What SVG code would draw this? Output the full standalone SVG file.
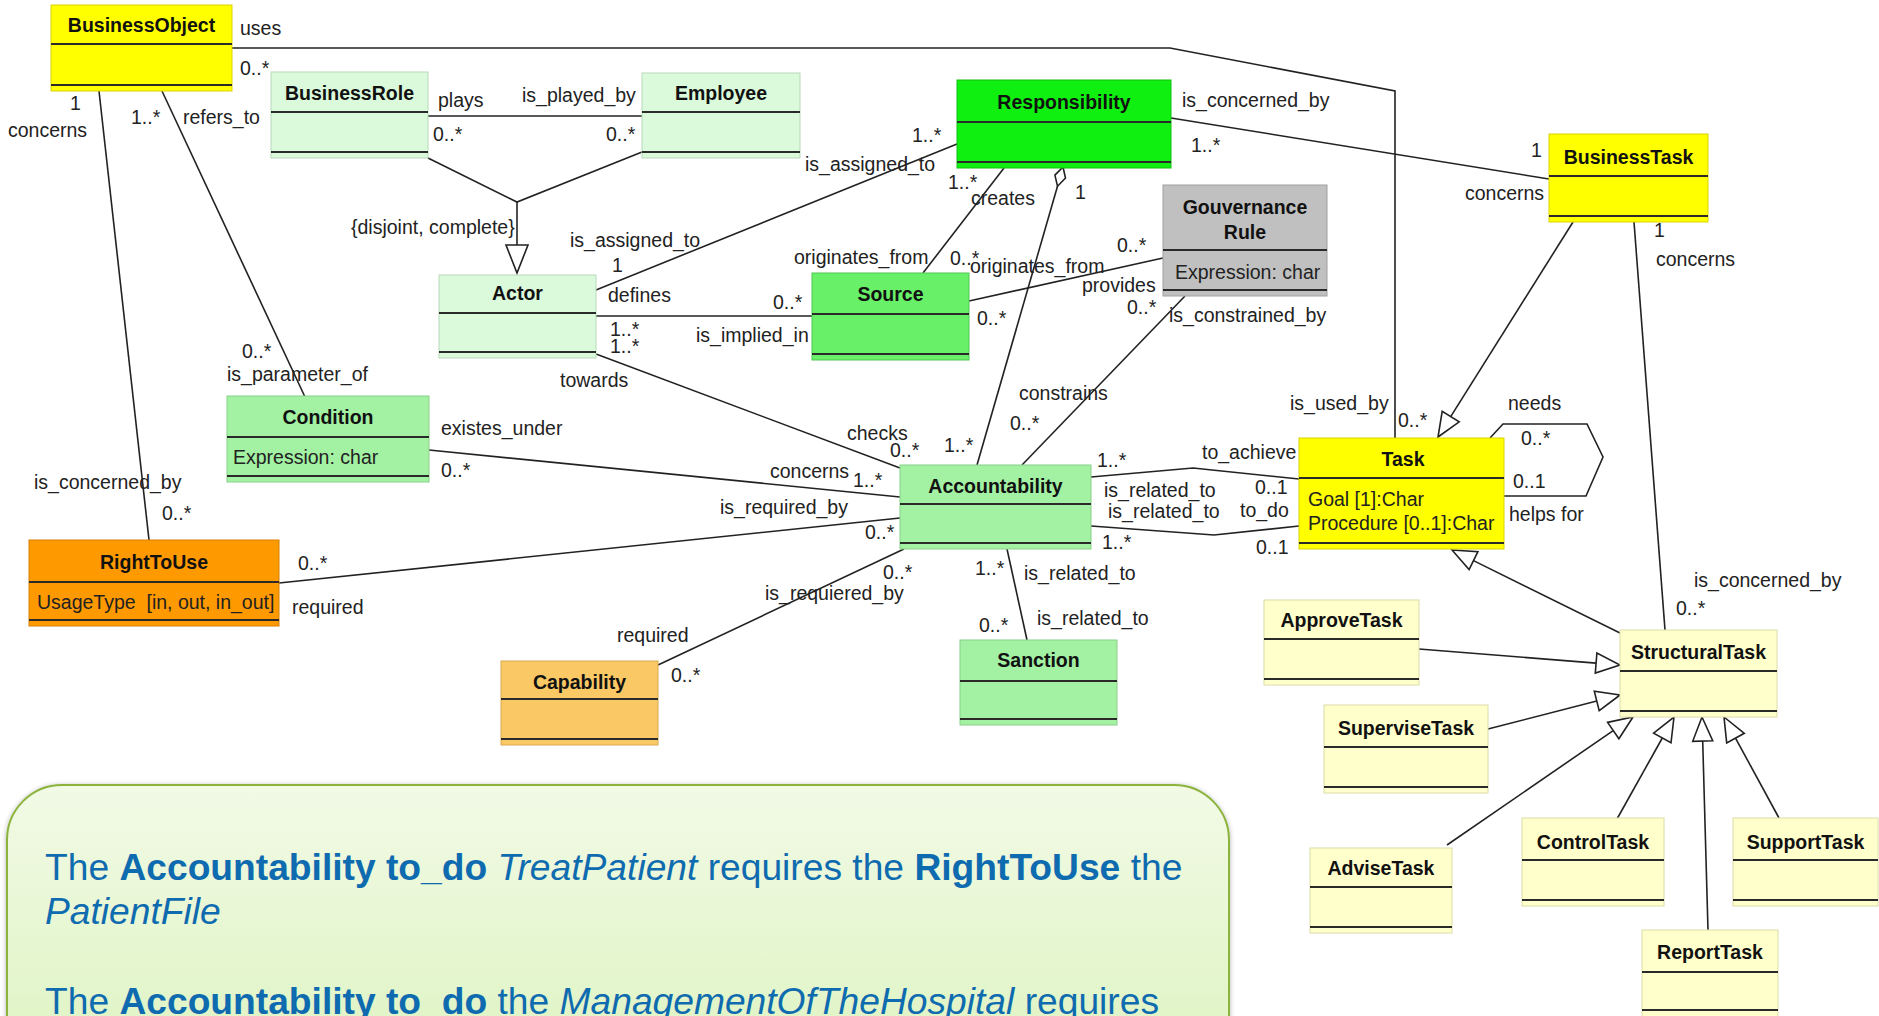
<svg xmlns="http://www.w3.org/2000/svg" width="1879" height="1016" viewBox="0 0 1879 1016">
  <defs>
    <style>
      text { font-family: "Liberation Sans", Arial, sans-serif; }
      .lbl { font-size: 19.5px; fill: #222; }
      .ttl { font-size: 19.5px; font-weight: bold; fill: #111; text-anchor: middle; }
      .attr { font-size: 19.5px; fill: #222; }
      .sep { stroke: #2a2a2a; stroke-width: 2.2; }
      .edge { stroke-width: 1; }
      .c { fill: none; stroke: #222; stroke-width: 1.6; }
      .tri { fill: #fff; stroke: #222; stroke-width: 1.6; }
      .note { font-size: 37.2px; fill: #0F6BAF; }
      .b { font-weight: bold; }
      .i { font-style: italic; }
    </style>
    <linearGradient id="noteFill" x1="0" y1="0" x2="0" y2="1">
      <stop offset="0" stop-color="#F2FAE6"/>
      <stop offset="1" stop-color="#DBF3BD"/>
    </linearGradient>
    <filter id="noteShadow" x="-5%" y="-10%" width="110%" height="120%">
      <feDropShadow dx="0" dy="1" stdDeviation="2.5" flood-color="#000" flood-opacity="0.3"/>
    </filter>
  </defs>

  <rect width="1879" height="1016" fill="#fff"/>

  <!-- connectors -->
  <g id="connectors">
    <!-- BusinessObject uses / Task is_used_by -->
    <polyline class="c" points="232,48 1170,48 1395,91 1395,438"/>
    <!-- plays / is_played_by -->
    <line class="c" x1="428" y1="116" x2="642" y2="116"/>
    <!-- {disjoint, complete} generalization to Actor -->
    <polyline class="c" points="428,158 517,202 642,152"/>
    <line class="c" x1="517" y1="202" x2="517" y2="245"/>
    <polygon class="tri" points="506,245 528,245 517,273"/>
    <!-- refers_to / is_parameter_of -->
    <line class="c" x1="162" y1="91" x2="305" y2="397"/>
    <!-- concerns / is_concerned_by -->
    <line class="c" x1="99" y1="91" x2="149" y2="540"/>
    <!-- Actor is_assigned_to Responsibility -->
    <line class="c" x1="596" y1="290" x2="957" y2="144"/>
    <!-- defines / is_implied_in -->
    <line class="c" x1="596" y1="316" x2="812" y2="316"/>
    <!-- towards / checks -->
    <line class="c" x1="596" y1="354" x2="900" y2="468"/>
    <!-- creates / originates_from -->
    <line class="c" x1="1004" y1="168" x2="923" y2="273"/>
    <!-- aggregation Responsibility - Accountability -->
    <line class="c" x1="1057.5" y1="186.2" x2="977" y2="465"/>
    <polygon class="tri" points="1063,167 1065.5,178.1 1057.5,186.2 1054.9,175.1"/>
    <!-- Source provides Gouvernance Rule -->
    <line class="c" x1="969" y1="301" x2="1163" y2="258"/>
    <!-- constrains / is_constrained_by -->
    <line class="c" x1="1185" y1="296" x2="1022" y2="465"/>
    <!-- Responsibility is_concerned_by BusinessTask -->
    <line class="c" x1="1171" y1="118" x2="1549" y2="179"/>
    <!-- existes_under / concerns -->
    <line class="c" x1="429" y1="450" x2="900" y2="497"/>
    <!-- RightToUse required / is_required_by -->
    <line class="c" x1="279" y1="583" x2="900" y2="518"/>
    <!-- Capability required / is_requiered_by -->
    <line class="c" x1="658" y1="665" x2="904" y2="549"/>
    <!-- Accountability - Sanction -->
    <line class="c" x1="1007" y1="549" x2="1027" y2="640"/>
    <!-- to_achieve -->
    <polyline class="c" points="1091,477 1193,468 1299,479"/>
    <!-- to_do -->
    <polyline class="c" points="1091,526 1214,535 1299,526"/>
    <!-- BusinessTask generalization to Task -->
    <line class="c" x1="1573" y1="222" x2="1450.7" y2="416.6"/>
    <polygon class="tri" points="1438,437 1459.2,421.9 1442.2,411.3"/>
    <!-- BusinessTask concerns StructuralTask -->
    <line class="c" x1="1634" y1="222" x2="1665" y2="630"/>
    <!-- Task needs / helps for (self association) -->
    <polyline class="c" points="1490,438 1503,424 1587,424 1603,457 1586,496 1504,496"/>
    <!-- StructuralTask generalization to Task -->
    <line class="c" x1="1620" y1="633" x2="1473.5" y2="560.6"/>
    <polygon class="tri" points="1452,550 1477.9,551.6 1469.1,569.6"/>
    <!-- subtasks generalization to StructuralTask -->
    <line class="c" x1="1419" y1="649" x2="1596.1" y2="663.1"/>
    <polygon class="tri" points="1620,665 1595.3,673 1596.9,653.1"/>
    <line class="c" x1="1488" y1="729" x2="1596.8" y2="701"/>
    <polygon class="tri" points="1620,695 1599.2,710.6 1594.3,691.3"/>
    <line class="c" x1="1447" y1="845" x2="1613.2" y2="730.6"/>
    <polygon class="tri" points="1633,717 1618.9,738.8 1607.6,722.4"/>
    <line class="c" x1="1617" y1="819" x2="1662.3" y2="738"/>
    <polygon class="tri" points="1674,717 1671,742.8 1653.6,733.1"/>
    <line class="c" x1="1708" y1="930" x2="1702.7" y2="741"/>
    <polygon class="tri" points="1702,717 1712.7,740.7 1692.7,741.3"/>
    <line class="c" x1="1779" y1="818" x2="1735.5" y2="738.1"/>
    <polygon class="tri" points="1724,717 1744.3,733.3 1726.7,742.9"/>
  </g>

  <!-- association labels and multiplicities -->
  <g id="labels" class="lbl">
    <text x="240" y="35">uses</text>
    <text x="240" y="75">0..*</text>
    <text x="438" y="107">plays</text>
    <text x="522" y="102">is_played_by</text>
    <text x="433" y="141">0..*</text>
    <text x="606" y="141">0..*</text>
    <text x="70" y="110">1</text>
    <text x="8" y="137">concerns</text>
    <text x="131" y="124">1..*</text>
    <text x="183" y="124">refers_to</text>
    <text x="351" y="234">{disjoint, complete}</text>
    <text x="570" y="247">is_assigned_to</text>
    <text x="612" y="272">1</text>
    <text x="608" y="302">defines</text>
    <text x="610" y="336">1..*</text>
    <text x="610" y="353">1..*</text>
    <text x="560" y="387">towards</text>
    <text x="242" y="358">0..*</text>
    <text x="227" y="381">is_parameter_of</text>
    <text x="441" y="435">existes_under</text>
    <text x="441" y="477">0..*</text>
    <text x="34" y="489">is_concerned_by</text>
    <text x="162" y="520">0..*</text>
    <text x="298" y="570">0..*</text>
    <text x="292" y="614">required</text>
    <text x="617" y="642">required</text>
    <text x="671" y="682">0..*</text>
    <text x="847" y="440">checks</text>
    <text x="890" y="457">0..*</text>
    <text x="944" y="452">1..*</text>
    <text x="770" y="478">concerns</text>
    <text x="853" y="487">1..*</text>
    <text x="720" y="514">is_required_by</text>
    <text x="865" y="539">0..*</text>
    <text x="883" y="579">0..*</text>
    <text x="765" y="600">is_requiered_by</text>
    <text x="975" y="575">1..*</text>
    <text x="1024" y="580">is_related_to</text>
    <text x="979" y="632">0..*</text>
    <text x="1037" y="625">is_related_to</text>
    <text x="1019" y="400">constrains</text>
    <text x="1010" y="430">0..*</text>
    <text x="1097" y="467">1..*</text>
    <text x="1202" y="459">to_achieve</text>
    <text x="1104" y="497">is_related_to</text>
    <text x="1255" y="494">0..1</text>
    <text x="1108" y="518">is_related_to</text>
    <text x="1240" y="517">to_do</text>
    <text x="1102" y="549">1..*</text>
    <text x="1256" y="554">0..1</text>
    <text x="1182" y="107">is_concerned_by</text>
    <text x="1191" y="152">1..*</text>
    <text x="912" y="142">1..*</text>
    <text x="805" y="171">is_assigned_to</text>
    <text x="948" y="189">1..*</text>
    <text x="971" y="205">creates</text>
    <text x="1075" y="199">1</text>
    <text x="1117" y="252">0..*</text>
    <text x="970" y="273">originates_from</text>
    <text x="1082" y="292">provides</text>
    <text x="794" y="264">originates_from</text>
    <text x="950" y="265">0..*</text>
    <text x="1127" y="314">0..*</text>
    <text x="1169" y="322">is_constrained_by</text>
    <text x="773" y="309">0..*</text>
    <text x="696" y="342">is_implied_in</text>
    <text x="977" y="325">0..*</text>
    <text x="1531" y="157">1</text>
    <text x="1465" y="200">concerns</text>
    <text x="1654" y="237">1</text>
    <text x="1656" y="266">concerns</text>
    <text x="1290" y="410">is_used_by</text>
    <text x="1398" y="427">0..*</text>
    <text x="1508" y="410">needs</text>
    <text x="1521" y="445">0..*</text>
    <text x="1513" y="488">0..1</text>
    <text x="1509" y="521">helps for</text>
    <text x="1694" y="587">is_concerned_by</text>
    <text x="1676" y="615">0..*</text>
  </g>

  <!-- classes -->
  <g id="BusinessObject">
    <rect x="51" y="5" width="181" height="86" fill="#FFFF00" stroke="#D8D400" class="edge"/>
    <line class="sep" x1="51" y1="44" x2="232" y2="44"/>
    <line class="sep" x1="51" y1="85" x2="232" y2="85"/>
    <text class="ttl" x="141.5" y="32">BusinessObject</text>
  </g>
  <g id="BusinessRole">
    <rect x="271" y="72" width="157" height="86" fill="#DBF9DB" stroke="#B9D9B9" class="edge"/>
    <line class="sep" x1="271" y1="112" x2="428" y2="112"/>
    <line class="sep" x1="271" y1="152" x2="428" y2="152"/>
    <text class="ttl" x="349.5" y="100">BusinessRole</text>
  </g>
  <g id="Employee">
    <rect x="642" y="73" width="158" height="85" fill="#DBF9DB" stroke="#B9D9B9" class="edge"/>
    <line class="sep" x1="642" y1="112" x2="800" y2="112"/>
    <line class="sep" x1="642" y1="152" x2="800" y2="152"/>
    <text class="ttl" x="721" y="100">Employee</text>
  </g>
  <g id="Responsibility">
    <rect x="957" y="80" width="214" height="88" fill="#10F010" stroke="#10C010" class="edge"/>
    <line class="sep" x1="957" y1="122" x2="1171" y2="122"/>
    <line class="sep" x1="957" y1="162" x2="1171" y2="162"/>
    <text class="ttl" x="1064" y="109">Responsibility</text>
  </g>
  <g id="GouvernanceRule">
    <rect x="1163" y="185" width="164" height="111" fill="#C0C0C0" stroke="#A0A0A0" class="edge"/>
    <line class="sep" x1="1163" y1="250" x2="1327" y2="250"/>
    <line class="sep" x1="1163" y1="290" x2="1327" y2="290"/>
    <text class="ttl" x="1245" y="214">Gouvernance</text>
    <text class="ttl" x="1245" y="239">Rule</text>
    <text class="attr" x="1175" y="279">Expression: char</text>
  </g>
  <g id="Actor">
    <rect x="439" y="275" width="157" height="83" fill="#DBF9DB" stroke="#B9D9B9" class="edge"/>
    <line class="sep" x1="439" y1="313" x2="596" y2="313"/>
    <line class="sep" x1="439" y1="352" x2="596" y2="352"/>
    <text class="ttl" x="517.5" y="300">Actor</text>
  </g>
  <g id="Source">
    <rect x="812" y="273" width="157" height="87" fill="#69F069" stroke="#50C850" class="edge"/>
    <line class="sep" x1="812" y1="314" x2="969" y2="314"/>
    <line class="sep" x1="812" y1="354" x2="969" y2="354"/>
    <text class="ttl" x="890.5" y="301">Source</text>
  </g>
  <g id="Condition">
    <rect x="227" y="396" width="202" height="86" fill="#A3F2A3" stroke="#88D088" class="edge"/>
    <line class="sep" x1="227" y1="437" x2="429" y2="437"/>
    <line class="sep" x1="227" y1="476" x2="429" y2="476"/>
    <text class="ttl" x="328" y="424">Condition</text>
    <text class="attr" x="233" y="464">Expression: char</text>
  </g>
  <g id="Accountability">
    <rect x="900" y="465" width="191" height="84" fill="#A3F2A3" stroke="#88D088" class="edge"/>
    <line class="sep" x1="900" y1="504" x2="1091" y2="504"/>
    <line class="sep" x1="900" y1="543" x2="1091" y2="543"/>
    <text class="ttl" x="995.5" y="493">Accountability</text>
  </g>
  <g id="Sanction">
    <rect x="960" y="640" width="157" height="85" fill="#A3F2A3" stroke="#88D088" class="edge"/>
    <line class="sep" x1="960" y1="681" x2="1117" y2="681"/>
    <line class="sep" x1="960" y1="719" x2="1117" y2="719"/>
    <text class="ttl" x="1038.5" y="667">Sanction</text>
  </g>
  <g id="RightToUse">
    <rect x="29" y="540" width="250" height="86" fill="#FF9900" stroke="#D88000" class="edge"/>
    <line class="sep" x1="29" y1="582" x2="279" y2="582"/>
    <line class="sep" x1="29" y1="620" x2="279" y2="620"/>
    <text class="ttl" x="154" y="569">RightToUse</text>
    <text class="attr" x="37" y="609" xml:space="preserve">UsageType  [in, out, in_out]</text>
  </g>
  <g id="Capability">
    <rect x="501" y="661" width="157" height="84" fill="#FAC864" stroke="#D8A850" class="edge"/>
    <line class="sep" x1="501" y1="699" x2="658" y2="699"/>
    <line class="sep" x1="501" y1="739" x2="658" y2="739"/>
    <text class="ttl" x="579.5" y="689">Capability</text>
  </g>
  <g id="BusinessTask">
    <rect x="1549" y="134" width="159" height="88" fill="#FFFF00" stroke="#D8D400" class="edge"/>
    <line class="sep" x1="1549" y1="176" x2="1708" y2="176"/>
    <line class="sep" x1="1549" y1="216" x2="1708" y2="216"/>
    <text class="ttl" x="1628.5" y="164">BusinessTask</text>
  </g>
  <g id="Task">
    <rect x="1299" y="438" width="205" height="111" fill="#FFFF00" stroke="#D8D400" class="edge"/>
    <line class="sep" x1="1299" y1="478" x2="1504" y2="478"/>
    <line class="sep" x1="1299" y1="543" x2="1504" y2="543"/>
    <text class="ttl" x="1403" y="466">Task</text>
    <text class="attr" x="1308" y="506">Goal [1]:Char</text>
    <text class="attr" x="1308" y="530">Procedure [0..1]:Char</text>
  </g>
  <g id="StructuralTask">
    <rect x="1620" y="630" width="157" height="87" fill="#FFFFCC" stroke="#DCDCA8" class="edge"/>
    <line class="sep" x1="1620" y1="671" x2="1777" y2="671"/>
    <line class="sep" x1="1620" y1="711" x2="1777" y2="711"/>
    <text class="ttl" x="1698.5" y="659">StructuralTask</text>
  </g>
  <g id="ApproveTask">
    <rect x="1264" y="600" width="155" height="85" fill="#FFFFCC" stroke="#DCDCA8" class="edge"/>
    <line class="sep" x1="1264" y1="639" x2="1419" y2="639"/>
    <line class="sep" x1="1264" y1="679" x2="1419" y2="679"/>
    <text class="ttl" x="1341.5" y="627">ApproveTask</text>
  </g>
  <g id="SuperviseTask">
    <rect x="1324" y="705" width="164" height="88" fill="#FFFFCC" stroke="#DCDCA8" class="edge"/>
    <line class="sep" x1="1324" y1="747" x2="1488" y2="747"/>
    <line class="sep" x1="1324" y1="787" x2="1488" y2="787"/>
    <text class="ttl" x="1406" y="735">SuperviseTask</text>
  </g>
  <g id="AdviseTask">
    <rect x="1310" y="848" width="142" height="85" fill="#FFFFCC" stroke="#DCDCA8" class="edge"/>
    <line class="sep" x1="1310" y1="887" x2="1452" y2="887"/>
    <line class="sep" x1="1310" y1="927" x2="1452" y2="927"/>
    <text class="ttl" x="1381" y="875">AdviseTask</text>
  </g>
  <g id="ControlTask">
    <rect x="1522" y="818" width="142" height="88" fill="#FFFFCC" stroke="#DCDCA8" class="edge"/>
    <line class="sep" x1="1522" y1="860" x2="1664" y2="860"/>
    <line class="sep" x1="1522" y1="900" x2="1664" y2="900"/>
    <text class="ttl" x="1593" y="849">ControlTask</text>
  </g>
  <g id="SupportTask">
    <rect x="1733" y="818" width="145" height="88" fill="#FFFFCC" stroke="#DCDCA8" class="edge"/>
    <line class="sep" x1="1733" y1="860" x2="1878" y2="860"/>
    <line class="sep" x1="1733" y1="900" x2="1878" y2="900"/>
    <text class="ttl" x="1805.5" y="849">SupportTask</text>
  </g>
  <g id="ReportTask">
    <rect x="1642" y="930" width="136" height="90" fill="#FFFFCC" stroke="#DCDCA8" class="edge"/>
    <line class="sep" x1="1642" y1="972" x2="1778" y2="972"/>
    <line class="sep" x1="1642" y1="1010" x2="1778" y2="1010"/>
    <text class="ttl" x="1710" y="959">ReportTask</text>
  </g>

  <!-- example statements callout -->
  <g id="examples">
    <rect x="7" y="785" width="1222" height="320" rx="55" ry="55" fill="url(#noteFill)" stroke="#8CB33C" stroke-width="2" filter="url(#noteShadow)"/>
    <text class="note" x="45" y="880">The <tspan class="b">Accountability to_do</tspan> <tspan class="i">TreatPatient</tspan> requires the <tspan class="b">RightToUse</tspan> the</text>
    <text class="note i" x="45" y="924">PatientFile</text>
    <text class="note" x="45" y="1014">The <tspan class="b">Accountability to_do</tspan> the <tspan class="i">ManagementOfTheHospital</tspan> requires</text>
  </g>
</svg>
